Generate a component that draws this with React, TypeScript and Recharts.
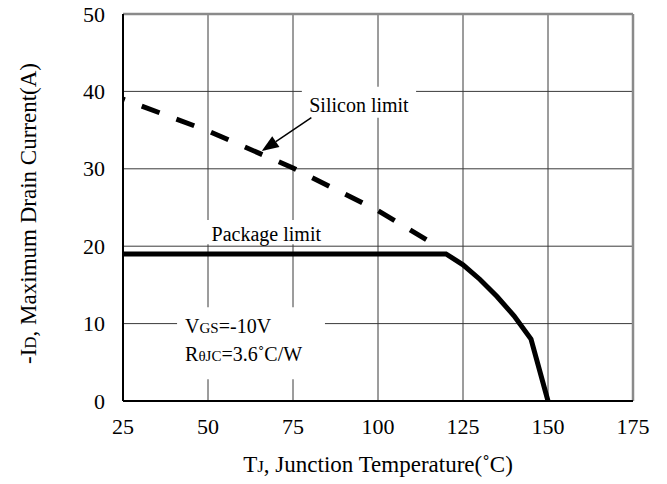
import { LineChart, Line, XAxis, YAxis, CartesianGrid, ReferenceArea, ReferenceLine, Label } from 'recharts'

const tempTicks = [25, 50, 75, 100, 125, 150, 175]
const currentTicks = [0, 10, 20, 30, 40, 50]

// package limit (solid)
const packageTemp = [25, 120, 125, 130, 135, 140, 145, 150]
const packageCurrent = [19, 19, 17.6, 15.7, 13.5, 11, 8, 0]

// silicon limit (dashed)
const siliconTemp = [25, 50, 75, 100, 117]
const siliconCurrent = [39, 34.9, 30.1, 24.6, 20.1]

const packageData = packageTemp.map((t, i) => ({ t, id: packageCurrent[i] }))
const siliconData = siliconTemp.map((t, i) => ({ t, id: siliconCurrent[i] }))

const FONT = '"Liberation Serif", "Times New Roman", serif'

// short stub at the start, then regular dashes
const siliconDash = '2 18 ' + '19 18 '.repeat(20).trim()

const XTick = ({ x, y, payload }: any) => (
  <text x={x} y={y + 33} textAnchor="middle" fontSize={22} fontFamily={FONT} fill="#000">
    {payload.value}
  </text>
)

const YTick = ({ x, y, payload }: any) => (
  <text x={x - 18} y={y + 7.5} textAnchor="end" fontSize={22} fontFamily={FONT} fill="#000">
    {payload.value}
  </text>
)

const ArrowShape = (props: any) => {
  const { x1, y1, x2, y2 } = props
  const ang = Math.atan2(y2 - y1, x2 - x1)
  const len = 17
  const half = 6.5
  const bx = x2 - len * Math.cos(ang)
  const by = y2 - len * Math.sin(ang)
  const px = -Math.sin(ang) * half
  const py = Math.cos(ang) * half
  return (
    <g>
      <line x1={x1} y1={y1} x2={bx} y2={by} stroke="#000" strokeWidth={1.5} />
      <polygon points={`${x2},${y2} ${bx + px},${by + py} ${bx - px},${by - py}`} fill="#000" />
    </g>
  )
}

export default function App() {
  return (
    <div style={{ position: 'absolute', left: 0, top: 0, background: '#fff', fontFamily: FONT }}>
      <LineChart width={667} height={484} margin={{ top: 14, right: 34, bottom: 0, left: 0 }}>
        <CartesianGrid stroke="#3a3a3a" strokeWidth={1} />
        <XAxis
          type="number"
          dataKey="t"
          domain={[25, 175]}
          ticks={tempTicks}
          height={83}
          tickSize={0}
          tickMargin={0}
          tick={XTick}
          axisLine={{ stroke: '#000', strokeWidth: 2 }}
          allowDataOverflow
        >
          <Label
            content={({ viewBox }: any) => (
              <text
                x={viewBox.x + viewBox.width / 2}
                y={viewBox.y + 71}
                textAnchor="middle"
                fontSize={23}
                fontFamily={FONT}
                fill="#000"
              >
                T<tspan fontSize={17}>J</tspan>, Junction Temperature(˚C)
              </text>
            )}
          />
        </XAxis>
        <YAxis
          type="number"
          domain={[0, 50]}
          ticks={currentTicks}
          width={123}
          tickSize={0}
          tickMargin={0}
          tick={YTick}
          axisLine={{ stroke: '#000', strokeWidth: 2 }}
          allowDataOverflow
        >
          <Label
            content={({ viewBox }: any) => {
              const cx = viewBox.x + 36
              const cy = viewBox.y + viewBox.height / 2 + 6
              return (
                <text
                  x={cx}
                  y={cy}
                  transform={`rotate(-90, ${cx}, ${cy})`}
                  textAnchor="middle"
                  fontSize={23}
                  fontFamily={FONT}
                  fill="#000"
                >
                  -I<tspan fontSize={17}>D</tspan>, Maximum Drain Current(A)
                </text>
              )
            }}
          />
        </YAxis>

        <ReferenceLine y={50} stroke="#8a8a8a" strokeWidth={2.5} />
        <ReferenceLine x={175} stroke="#8a8a8a" strokeWidth={2.5} />

        <ReferenceArea x1={77.6} x2={111.2} y1={36.6} y2={40.6} fill="#fff" fillOpacity={1} stroke="none" ifOverflow="visible">
          <Label
            content={({ viewBox }: any) => (
              <text
                x={viewBox.x + viewBox.width / 2}
                y={viewBox.y + 25}
                textAnchor="middle"
                fontSize={20}
                fontFamily={FONT}
                fill="#000"
              >
                Silicon limit
              </text>
            )}
          />
        </ReferenceArea>
        <ReferenceArea x1={49} x2={85.3} y1={20.25} y2={23.4} fill="#fff" fillOpacity={1} stroke="none" ifOverflow="visible">
          <Label
            content={({ viewBox }: any) => (
              <text
                x={viewBox.x + viewBox.width / 2}
                y={viewBox.y + 21}
                textAnchor="middle"
                fontSize={20}
                fontFamily={FONT}
                fill="#000"
              >
                Package limit
              </text>
            )}
          />
        </ReferenceArea>
        <ReferenceArea x1={40.9} x2={84.4} y1={2.8} y2={12.1} fill="#fff" fillOpacity={1} stroke="none" ifOverflow="visible">
          <Label
            content={({ viewBox }: any) => (
              <text fontSize={20} fontFamily={FONT} fill="#000">
                <tspan x={viewBox.x + 8} y={viewBox.y + 26}>
                  V<tspan fontSize={15}>GS</tspan>=-10V
                </tspan>
                <tspan x={viewBox.x + 8} y={viewBox.y + 54}>
                  R<tspan fontSize={15}>θJC</tspan>=3.6˚C/W
                </tspan>
              </text>
            )}
          />
        </ReferenceArea>

        <ReferenceLine
          segment={[{ x: 80.4, y: 36.6 }, { x: 65.8, y: 32.3 }]}
          shape={ArrowShape}
          ifOverflow="visible"
        />

        <Line
          data={siliconData}
          dataKey="id"
          type="linear"
          stroke="#000"
          strokeWidth={5}
          strokeDasharray={siliconDash}
          dot={false}
          isAnimationActive={false}
        />
        <Line
          data={packageData}
          dataKey="id"
          type="linear"
          stroke="#000"
          strokeWidth={5}
          strokeLinejoin="miter"
          dot={false}
          isAnimationActive={false}
        />
      </LineChart>
    </div>
  )
}
